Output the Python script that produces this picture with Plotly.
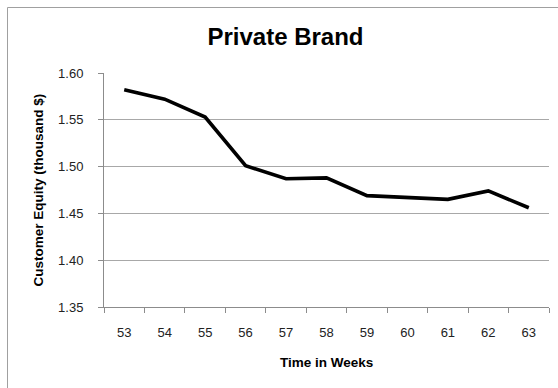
import plotly.graph_objects as go

# Weekly customer equity for the private brand (thousand $)
weeks = ["53", "54", "55", "56", "57", "58", "59", "60", "61", "62", "63"]
equity = [1.582, 1.572, 1.553, 1.501, 1.487, 1.488, 1.469, 1.467, 1.465, 1.474, 1.456]
y_ticks = [1.35, 1.40, 1.45, 1.50, 1.55, 1.60]

FONT = "Liberation Sans, Arial, sans-serif"
W, H = 558, 388
L, R, T, B = 104, 9, 73, 81
pw, ph = W - L - R, H - T - B


def px_x(x):
    return (x - L) / pw


def px_y(y):
    return (H - B - y) / ph


fig = go.Figure(
    go.Scatter(
        x=weeks,
        y=equity,
        mode="lines",
        line=dict(color="black", width=3.6),
        hoverinfo="x+y",
    )
)

frame = dict(color="#a0a0a0", width=1)

fig.update_layout(
    width=W,
    height=H,
    margin=dict(l=L, r=R, t=T, b=B),
    paper_bgcolor="white",
    plot_bgcolor="white",
    showlegend=False,
    font=dict(family=FONT, color="#222222"),
    title=dict(
        text="<b>Private Brand</b>",
        font=dict(family=FONT, size=24, color="black"),
        xref="paper",
        x=px_x(285.5),
        xanchor="center",
        yref="container",
        y=1 - 37 / H,
        yanchor="middle",
    ),
    xaxis=dict(
        type="category",
        range=[-0.5, len(weeks) - 0.5],
        showgrid=False,
        showline=True,
        linecolor="#8c8c8c",
        linewidth=1,
        ticks="outside",
        tickson="boundaries",
        ticklen=5,
        tickcolor="#8c8c8c",
        tickfont=dict(size=13, color="#222222"),
        ticklabelstandoff=13,
        zeroline=False,
        fixedrange=True,
    ),
    yaxis=dict(
        range=[1.35, 1.60],
        tickvals=y_ticks,
        tickformat=".2f",
        showgrid=True,
        gridcolor="#a8a8a8",
        gridwidth=1,
        showline=True,
        linecolor="#8c8c8c",
        linewidth=1,
        ticks="outside",
        ticklen=5,
        tickcolor="#8c8c8c",
        tickfont=dict(size=13, color="#222222"),
        ticklabelstandoff=12,
        zeroline=False,
        fixedrange=True,
    ),
    annotations=[
        dict(
            text="<b>Time in Weeks</b>",
            xref="paper", yref="paper",
            x=px_x(326.5), y=px_y(362.7),
            xanchor="center", yanchor="middle",
            showarrow=False,
            font=dict(family=FONT, size=13.5, color="black"),
        ),
        dict(
            text="<b>Customer Equity (thousand $)</b>",
            xref="paper", yref="paper",
            x=px_x(38.4), y=px_y(190),
            xanchor="center", yanchor="middle",
            textangle=-90,
            showarrow=False,
            font=dict(family=FONT, size=13.5, color="black"),
        ),
    ],
    shapes=[
        # chart-area frame: top and left edges
        dict(
            type="line", xref="paper", yref="paper",
            x0=px_x(7.5), x1=px_x(W + 20),
            y0=px_y(7.5), y1=px_y(7.5),
            line=frame, layer="below",
        ),
        dict(
            type="line", xref="paper", yref="paper",
            x0=px_x(7.5), x1=px_x(7.5),
            y0=px_y(7.5), y1=px_y(H + 20),
            line=frame, layer="below",
        ),
    ],
)

fig.write_html("out.html")
